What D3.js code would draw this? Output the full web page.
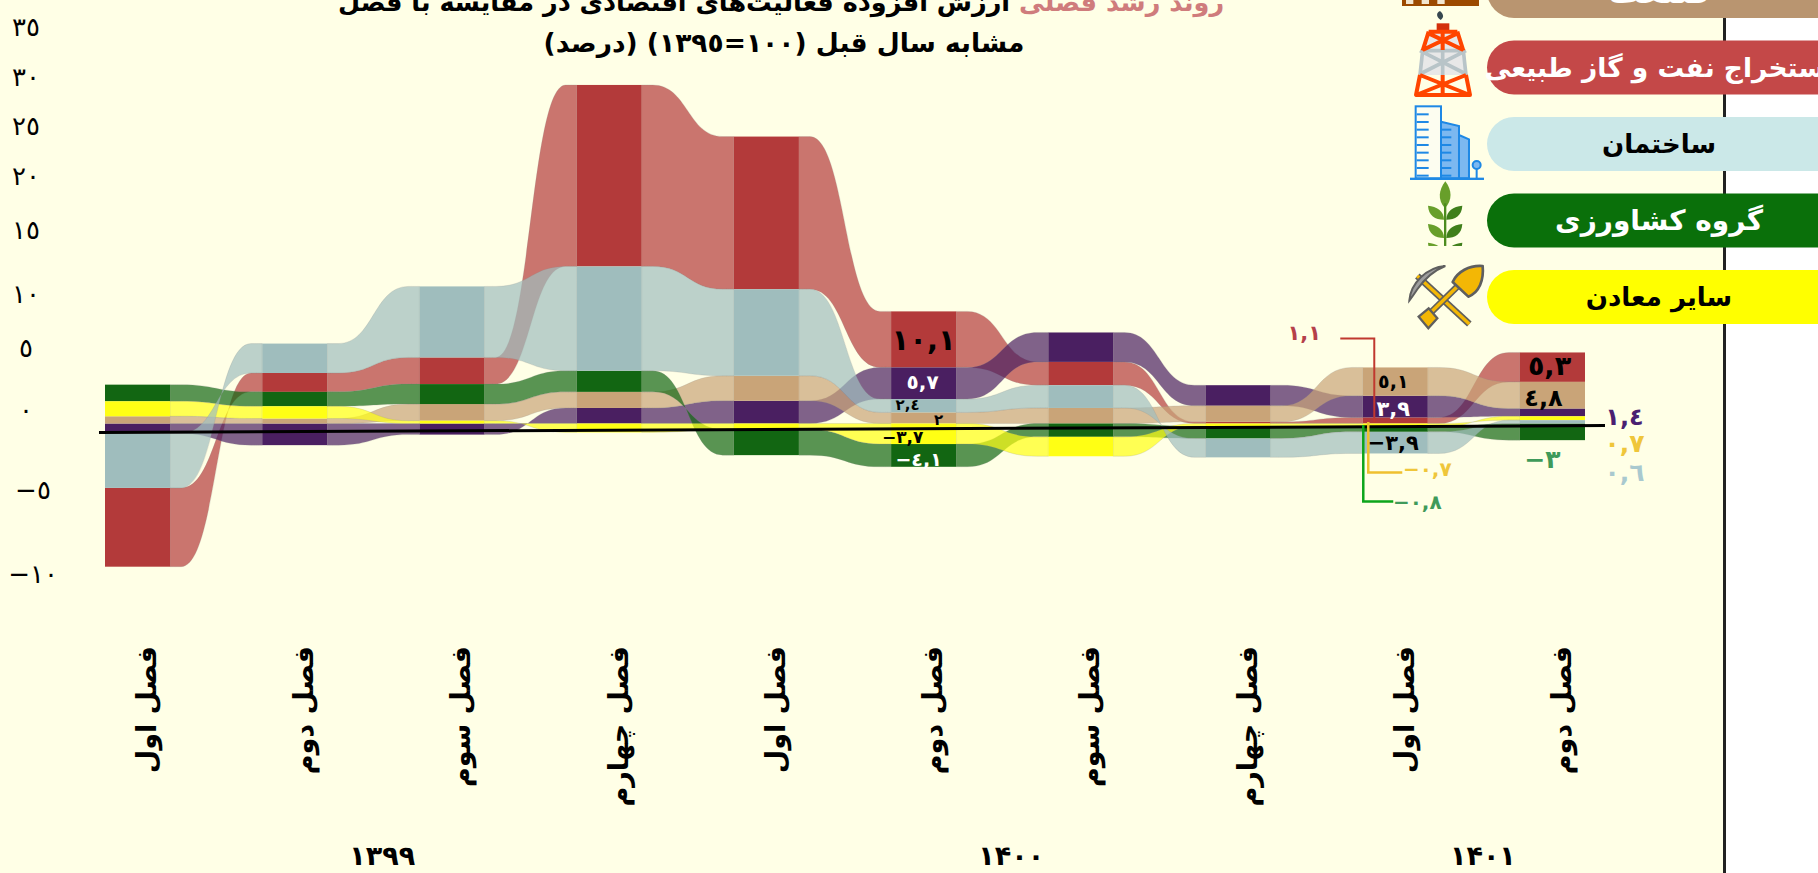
<!DOCTYPE html>
<html lang="fa">
<head>
    <meta charset="UTF-8">
    <title>روند رشد فصلی</title>
    <script src="https://cdnjs.cloudflare.com/ajax/libs/d3/7.8.5/d3.min.js"></script>
    <style>
        html, body { margin: 0; padding: 0; background: #fff; overflow: hidden; }
        text { font-family: "DejaVu Sans", sans-serif; }
    </style>
</head>
<body>
    <div id="chart"></div>

    <script>
        // Data, one value per quarter (percent)
        const quarters = ["فصل اول", "فصل دوم", "فصل سوم", "فصل چهارم", "فصل اول", "فصل دوم", "فصل سوم", "فصل چهارم", "فصل اول", "فصل دوم"];
        const years = ["۱۳۹۹", "۱۴۰۰", "۱۴۰۱"];
        const yearSpans = [[0, 3], [4, 7], [8, 9]];
        const oilGas = [-14.2, 3.4, 4.8, 32.7, 27.5, 10.1, 4.2, 0.3, 1.1, 5.3];
        const construction = [-9.8, 5.3, 12.8, 18.8, 15.6, 2.4, 4.1, -3.4, -3.9, 0.6];
        const agriculture = [3.0, 2.6, 3.6, 3.8, -4.6, -4.1, -2.4, -2.2, -0.8, -3];
        const otherMines = [2.7, 2.2, 0.5, -1.6, -1.1, -3.7, -3.5, -0.5, -0.7, 0.7];
        const industry = [1.3, 0.9, 3.0, 2.9, 4.5, 2, 2.8, 2.9, 5.1, 4.8];
        const services = [-1.8, -3.9, -2.0, 2.8, 4.1, 5.7, 5.3, 3.7, 3.9, 1.4];
        const axisTicks = [35, 30, 25, 20, 15, 10, 5, 0, -5, -10];
        const legendNames = ["صنعت", "استخراج نفت و گاز طبیعی", "ساختمان", "گروه کشاورزی", "سایر معادن"];

        const series = [
            { key: "oil", values: oilGas, color: "#b33a3a" },
            { key: "services", values: services, color: "#4a1f61" },
            { key: "industry", values: industry, color: "#c9a478" },
            { key: "agriculture", values: agriculture, color: "#126612" },
            { key: "mines", values: otherMines, color: "#ffff14" },
            { key: "construction", values: construction, color: "#9fbdbd" }
        ];

        const width = 1818;
        const height = 873;
        const paper = "#ffffe6";
        const barWidth = 65;

        const toFa = v => String(Math.abs(v)).replace(".", ",").replace(/\d/g, d => "٠١٢٣٤٥٦٧٨٩"[d]);
        const label = v => (v < 0 ? "−" : "") + toFa(v);

        const svg = d3.select("#chart").append("svg")
            .attr("width", width)
            .attr("height", height)
            .style("display", "block");

        svg.append("rect").attr("width", width).attr("height", height).attr("fill", "#fff");
        svg.append("rect").attr("width", 1724).attr("height", height).attr("fill", paper);
        svg.append("rect").attr("x", 1723).attr("width", 3).attr("height", height).attr("fill", "#222");

        // Scales
        const x = d3.scalePoint().domain(d3.range(quarters.length)).range([137.5, 1552.5]);
        const y = d3.scaleLinear().domain([-25, 65]).range([562.25, 62.75]);
        // the printed axis labels are not evenly spaced in the original
        const yTick = d3.scaleLinear().domain(axisTicks).range([27, 76.5, 126, 176, 230, 294, 348, 410, 490, 574]);

        // Sorted diverging stack for every quarter
        const layers = new Map(series.map(s => [s.key, []]));
        quarters.forEach((q, i) => {
            const sorted = series.slice().sort((a, b) => a.values[i] - b.values[i]);
            let pos = 0;
            sorted.filter(s => s.values[i] >= 0).forEach(s => {
                layers.get(s.key)[i] = [pos, pos + s.values[i]];
                pos += s.values[i];
            });
            let neg = 0;
            sorted.filter(s => s.values[i] < 0).reverse().forEach(s => {
                layers.get(s.key)[i] = [neg, neg + s.values[i]];
                neg += s.values[i];
            });
        });

        // Ribbons between the bars
        const ribbon = d3.area()
            .x(d => d.x)
            .y0(d => y(d.lo))
            .y1(d => y(d.hi))
            .curve(d3.curveBumpX);

        const ribbonLayer = svg.append("g");
        ["oil", "services", "industry", "agriculture", "mines", "construction"].forEach(key => {
            const s = series.find(d => d.key === key);
            const band = layers.get(key);
            for (let i = 0; i < quarters.length - 1; i++) {
                const x0 = x(i) + barWidth / 2;
                const x1 = x(i + 1) - barWidth / 2;
                const flat = (x1 - x0) * 0.12;
                ribbonLayer.append("path")
                    .datum([
                        { x: x0, lo: band[i][0], hi: band[i][1] },
                        { x: x0 + flat, lo: band[i][0], hi: band[i][1] },
                        { x: x1 - flat, lo: band[i + 1][0], hi: band[i + 1][1] },
                        { x: x1, lo: band[i + 1][0], hi: band[i + 1][1] }
                    ])
                    .attr("d", ribbon)
                    .attr("fill", s.color)
                    .attr("fill-opacity", 0.7)
                    .attr("stroke", "#8a8a8a")
                    .attr("stroke-opacity", 0.25)
                    .attr("stroke-width", 0.8);
            }
        });

        // Bars
        series.forEach(s => {
            svg.append("g").selectAll("rect")
                .data(layers.get(s.key))
                .enter()
                .append("rect")
                .attr("x", (d, i) => x(i) - barWidth / 2)
                .attr("width", barWidth)
                .attr("y", d => y(Math.max(d[0], d[1])))
                .attr("height", d => Math.abs(y(d[0]) - y(d[1])))
                .attr("fill", s.color);
        });

        // Tilted black zero line, as in the original
        svg.append("line")
            .attr("x1", 99).attr("y1", 432.5)
            .attr("x2", 1605).attr("y2", 425.6)
            .attr("stroke", "#000").attr("stroke-width", 3);

        // Leader lines of the 1401 first quarter
        const lx = x(8);
        const leaders = [
            { color: "#c0392f", w: 2, d: `M${lx - 55},338.5H${lx - 21}V422` },
            { color: "#efc02f", w: 2.5, d: `M${lx - 27},422V472.5H${lx + 7}` },
            { color: "#0da51b", w: 2.5, d: `M${lx - 32},425V501.5H${lx - 2}` }
        ];
        svg.append("g").selectAll("path").data(leaders).enter().append("path")
            .attr("d", d => d.d)
            .attr("fill", "none")
            .attr("stroke", d => d.color)
            .attr("stroke-width", d => d.w);

        // Value labels: quarter, series, offset from the band centre, size, colour
        const valueLabels = [
            [5, "oil", 0, 0, 29, "#000"],
            [5, "services", -1, -1, 20, "#fff"],
            [5, "construction", -16, -1, 15, "#000"],
            [5, "industry", 15, 2, 15, "#000"],
            [5, "mines", -21, 3, 17, "#000"],
            [5, "agriculture", -5, 4, 19, "#fff"],
            [8, "industry", -2, 0, 19, "#000"],
            [8, "services", -2, 2, 21, "#fff"],
            [8, "oil", -91, -88, 21, "#b5404a"],
            [8, "mines", 32, 44, 20, "#efc63a"],
            [8, "agriculture", 22, 72, 20, "#3f9a5a"],
            [8, "construction", -2, 0, 21, "#000"],
            [9, "oil", -3, -2, 27, "#000"],
            [9, "industry", -9, 2, 24, "#000"],
            [9, "services", 72, 4, 24, "#4a1f71"],
            [9, "mines", 72, 25, 25, "#efc63a"],
            [9, "construction", 72, 50, 25, "#a9c9cf"],
            [9, "agriculture", -10, 27, 25, "#3f9a5a"]
        ];
        svg.append("g").selectAll("text").data(valueLabels).enter().append("text")
            .attr("x", d => x(d[0]) + d[2])
            .attr("y", d => y(d3.mean(layers.get(d[1])[d[0]])) + d[3])
            .attr("dy", "0.35em")
            .attr("direction", "ltr")
            .attr("text-anchor", "middle")
            .attr("font-size", d => d[4])
            .attr("font-weight", 700)
            .attr("fill", d => d[5])
            .text(d => label(series.find(s => s.key === d[1]).values[d[0]]));

        // Printed y axis labels
        svg.append("g").selectAll("text").data(axisTicks).enter().append("text")
            .attr("x", d => d < 0 ? 33 : 26)
            .attr("y", d => yTick(d))
            .attr("dy", "0.35em")
            .attr("direction", "ltr")
            .attr("text-anchor", "middle")
            .attr("font-size", 26)
            .attr("fill", "#000")
            .text(d => label(d));

        // Quarter labels, rotated
        svg.append("g").selectAll("text").data(quarters).enter().append("text")
            .attr("transform", (d, i) => `translate(${x(i) + 9},646) rotate(-90)`)
            .attr("direction", "rtl")
            .attr("text-anchor", "start")
            .attr("dy", "0.35em")
            .attr("font-size", 27)
            .attr("font-weight", 700)
            .attr("fill", "#000")
            .text(d => d);

        // Year labels
        svg.append("g").selectAll("text").data(years).enter().append("text")
            .attr("x", (d, i) => (x(yearSpans[i][0]) + x(yearSpans[i][1])) / 2 + 9)
            .attr("y", 856)
            .attr("dy", "0.35em")
            .attr("direction", "ltr")
            .attr("text-anchor", "middle")
            .attr("font-size", 27)
            .attr("font-weight", 700)
            .attr("fill", "#000")
            .text(d => d);

        // Title (first line is cut by the top edge in the original)
        const title = svg.append("g").attr("font-weight", 700).attr("fill", "#000");
        const line1 = title.append("text")
            .attr("x", 781).attr("y", 11)
            .attr("font-size", 25.5)
            .attr("direction", "rtl").attr("text-anchor", "middle");
        line1.append("tspan").attr("fill", "#cf7c7c").text("روند رشد فصلی ");
        line1.append("tspan").text("ارزش افزوده فعالیت‌های اقتصادی در مقایسه با فصل");
        title.append("text")
            .attr("x", 784).attr("y", 43)
            .attr("dy", "0.35em")
            .attr("font-size", 26.5)
            .attr("direction", "rtl").attr("text-anchor", "middle")
            .text("مشابه سال قبل (١٠٠=١٣٩٥) (درصد)");

        // Legend pills
        const pillColors = ["#b99570", "#c44848", "#cbe8e8", "#0a700a", "#ffff00"];
        const pillText = ["#fff", "#fff", "#000", "#fff", "#000"];
        const pillY = d3.scaleLinear().domain([0, 4]).range([-9, 297]);
        const pills = svg.append("g").selectAll("g").data(legendNames).enter().append("g")
            .attr("transform", (d, i) => `translate(0,${pillY(i)})`);
        pills.append("rect")
            .attr("x", 1487).attr("y", -27)
            .attr("width", 400).attr("height", 54).attr("rx", 27)
            .attr("fill", (d, i) => pillColors[i]);
        pills.append("text")
            .attr("x", 1659)
            .attr("dy", "0.35em")
            .attr("direction", "rtl")
            .attr("text-anchor", "middle")
            .attr("font-size", (d, i) => [34, 26.5, 26, 28, 26][i])
            .attr("font-weight", 700)
            .attr("fill", (d, i) => pillText[i])
            .text(d => d);

        // Icons, drawn in a 3x grid so the numbers stay whole
        const icons = svg.append("g").attr("transform", "translate(1380,0) scale(0.3333)");

        // factory roof fragment
        icons.append("rect").attr("x", 66).attr("y", -10).attr("width", 231).attr("height", 28).attr("fill", "#9c4a00");
        [78, 125, 172].forEach(wx => icons.append("rect").attr("x", wx).attr("y", -10).attr("width", 22).attr("height", 22).attr("fill", "#f2e6d0"));

        // oil derrick
        icons.append("path").attr("d", "M180,33C168,38 168,50 182,60C192,52 192,44 180,33Z").attr("fill", "#37474f");
        icons.append("rect").attr("x", 170).attr("y", 70).attr("width", 38).attr("height", 20).attr("fill", "#d32f0a");
        icons.append("path").attr("d", "M146,90H232L258,225H120Z").attr("fill", "#e8e8e8");
        icons.append("path").attr("d", "M128,152L120,225M250,152L258,225M120,222L258,152M258,222L120,152M188,150V225M128,152H250")
            .attr("stroke", "#b8c4c8").attr("stroke-width", 11).attr("fill", "none");
        icons.append("path").attr("d", "M146,95H232M146,95L128,152M232,95L250,152M128,150L232,100M250,150L146,100M188,95V150M120,225L108,285H270L258,225M120,225L262,282M258,225L116,282M188,225V285")
            .attr("stroke", "#ff4500").attr("stroke-width", 12).attr("stroke-linejoin", "round").attr("fill", "none");

        // buildings
        const blue = "#1e88e5";
        icons.append("path").attr("d", "M183,365L237,378V535H183ZM237,405L267,418V535H237Z").attr("fill", "#7cb8f0").attr("stroke", blue).attr("stroke-width", 6);
        icons.append("rect").attr("x", 107).attr("y", 319).attr("width", 76).attr("height", 216).attr("fill", "#fdfdf0").attr("stroke", blue).attr("stroke-width", 6);
        d3.range(340, 530, 23).forEach(sy => {
            icons.append("rect").attr("x", 110).attr("y", sy).attr("width", 36).attr("height", 6).attr("fill", blue);
            if (sy > 380) {
                icons.append("rect").attr("x", 186).attr("y", sy).attr("width", 28).attr("height", 6).attr("fill", blue);
            }
        });
        icons.append("rect").attr("x", 90).attr("y", 533).attr("width", 222).attr("height", 7).attr("fill", blue);
        icons.append("circle").attr("cx", 290).attr("cy", 495).attr("r", 12).attr("fill", "#7cb8f0").attr("stroke", blue).attr("stroke-width", 6);
        icons.append("rect").attr("x", 287).attr("y", 505).attr("width", 6).attr("height", 30).attr("fill", blue);

        // plant
        icons.append("path").attr("d", "M196,544C176,570 172,600 195,625C218,600 216,570 196,544Z").attr("fill", "#689f2a");
        icons.append("rect").attr("x", 192).attr("y", 610).attr("width", 7).attr("height", 128).attr("fill", "#4c8c1e");
        [617, 672, 728].forEach(ly => {
            icons.append("path").attr("d", `M144,${ly}C170,${ly + 2} 192,${ly + 16} 192,${ly + 42}C165,${ly + 42} 146,${ly + 30} 144,${ly}Z`).attr("fill", "#689f2a");
            icons.append("path").attr("d", `M247,${ly}C220,${ly + 2} 199,${ly + 16} 199,${ly + 42}C226,${ly + 42} 245,${ly + 30} 247,${ly}Z`).attr("fill", "#3f7f1b");
        });
        icons.append("rect").attr("x", 130).attr("y", 738).attr("width", 130).attr("height", 40).attr("fill", paper);

        // pick and shovel
        const grey = "#5f5f5f";
        const gold = "#f3b705";
        icons.append("path").attr("d", "M112,828L268,972").attr("stroke", grey).attr("stroke-width", 20).attr("fill", "none");
        icons.append("path").attr("d", "M112,828L268,972").attr("stroke", gold).attr("stroke-width", 10).attr("fill", "none");
        icons.append("path").attr("d", "M88,902C92,850 140,802 196,798C160,812 130,842 112,868C104,880 96,892 88,902Z").attr("fill", "#9e9e9e").attr("stroke", grey).attr("stroke-width", 6);
        icons.append("path").attr("d", "M150,940L240,852").attr("stroke", grey).attr("stroke-width", 20).attr("fill", "none");
        icons.append("path").attr("d", "M150,940L240,852").attr("stroke", gold).attr("stroke-width", 10).attr("fill", "none");
        icons.append("path").attr("d", "M116,950L146,925L172,955L145,985Z").attr("fill", gold).attr("stroke", grey).attr("stroke-width", 7);
        icons.append("path").attr("d", "M218,846C232,815 268,795 308,798C312,840 298,878 265,890Z").attr("fill", gold).attr("stroke", grey).attr("stroke-width", 8).attr("stroke-linejoin", "round");
    </script>
</body>
</html>
